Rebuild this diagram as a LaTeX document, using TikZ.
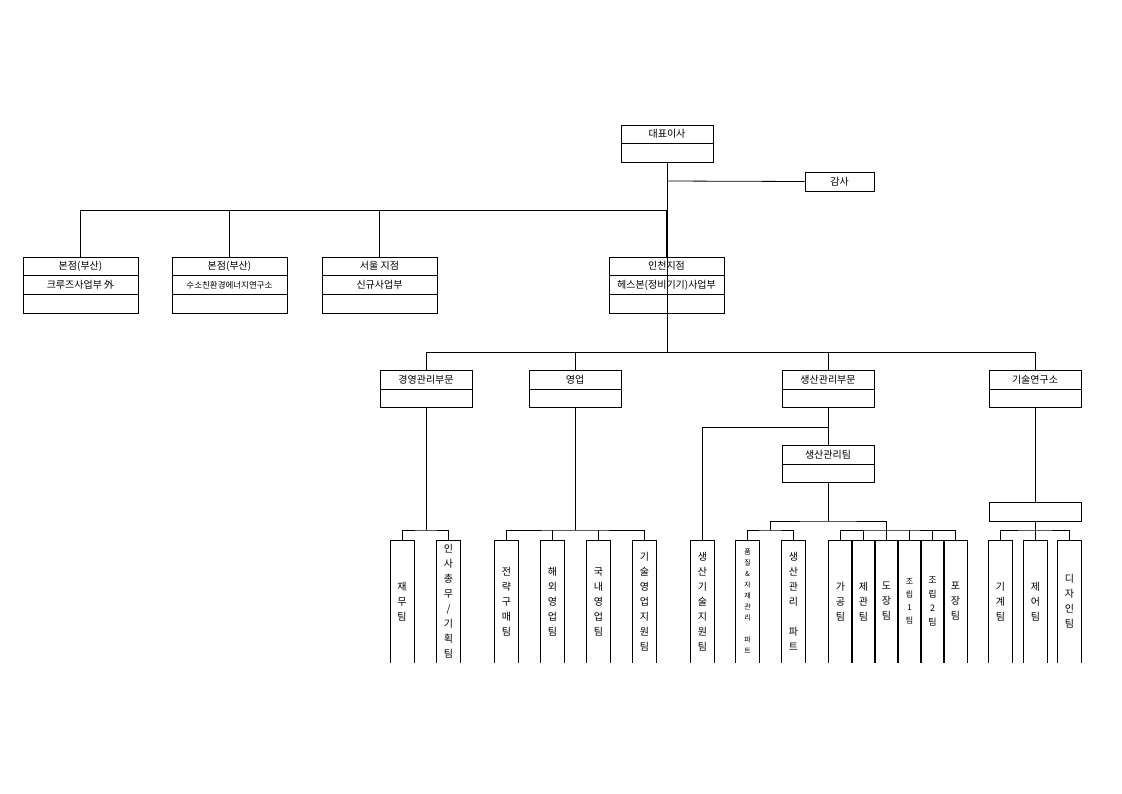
\documentclass[tikz,border=0pt]{standalone}
\usepackage{fontspec}
\setmainfont{Noto Sans CJK KR}
\usetikzlibrary{positioning}
\tikzset{
  box/.style={draw, minimum width=92pt, minimum height=37pt, anchor=north, inner sep=0pt},
  tall/.style={draw, minimum width=115pt, minimum height=56pt, anchor=north, inner sep=0pt},
  txt/.style={font=\fontsize{10}{12}\selectfont, inner sep=0pt},
  col/.style={minimum width=23pt, minimum height=122pt, anchor=north, inner sep=0pt, align=center,
    font=\fontsize{10}{15}\selectfont,
    append after command={\pgfextra{\draw[line width=0.8pt] (\tikzlastnode.south west) -- (\tikzlastnode.north west) -- (\tikzlastnode.north east) -- (\tikzlastnode.south east);}}},
  wire/.style={line width=0.8pt}
}
\begin{document}
\begin{tikzpicture}[x=1pt,y=-1pt,line width=0.8pt]
\useasboundingbox (0,0) rectangle (1122,793);
% top
\node[box] (ceo) at (667,125) {};
\draw (621,143) -- (713,143);
\node[txt] at (667,134) {대표이사};
\node[draw, minimum width=69pt, minimum height=19pt, inner sep=0pt, font=\fontsize{10}{12}\selectfont] (audit) at (839.5,181.5) {감사};
\coordinate (c1) at (667,181);
\coordinate (c2) at (667,210);
\coordinate (c3) at (667,352);
\draw (ceo.south) -- (c3);
\draw (c1) -- (audit.west);
% branches
\node[tall] (b1) at (80.5,257) {};
\node[tall] (b2) at (229.5,257) {};
\node[tall] (b3) at (379.5,257) {};
\node[tall] (b4) at (666.5,257) {};
\foreach \n in {b1,b2,b3,b4}{
  \draw ([yshift=-18pt]\n.north west) -- ([yshift=-18pt]\n.north east);
  \draw ([yshift=-37pt]\n.north west) -- ([yshift=-37pt]\n.north east);
  \draw (c2 -| \n.north) -- (\n.north);
}
\draw (c2 -| b1.north) -- (c2);
\node[txt] at (80.5,266) {본점(부산)};
\node[txt] at (80.5,285) {크루즈사업부 外};
\node[txt] at (229.5,266) {본점(부산)};
\node[txt, font=\fontsize{8.5}{10}\selectfont] at (229.5,285) {수소친환경에너지연구소};
\node[txt] at (379.5,266) {서울 지점};
\node[txt] at (379.5,285) {신규사업부};
\node[txt] at (666.5,266) {인천지점};
\node[txt] at (666.5,285) {헤스본(정비기기)사업부};
% divisions
\node[box] (d1) at (426,370) {};
\node[box] (d2) at (575,370) {};
\node[box] (d3) at (828,370) {};
\node[box] (d4) at (1035,370) {};
\foreach \n/\t in {d1/경영관리부문,d2/영업/구매부문,d3/생산관리부문,d4/기술연구소}{
  \draw ([yshift=-19pt]\n.north west) -- ([yshift=-19pt]\n.north east);
  \node[txt] at ([yshift=-9.5pt]\n.north) {\t};
  \draw (c3 -| \n.north) -- (\n.north);
}
\draw (c3 -| d1.north) -- (c3 -| d4.north);
% 경영관리
\node[col] (t1) at (402,540) {재\\무\\팀};
\node[col] (t2) at (448.5,540) {인\\사\\총\\무\\/\\기\\획\\팀};
\coordinate (h1) at (426,530);
\draw (d1.south) -- (h1);
\draw (t1.north) |- (h1) -| (t2.north);
% 영업
\node[col] (t3) at (506.5,540) {전\\략\\구\\매\\팀};
\node[col] (t4) at (552.5,540) {해\\외\\영\\업\\팀};
\node[col] (t5) at (598.5,540) {국\\내\\영\\업\\팀};
\node[col] (t6) at (644.5,540) {기\\술\\영\\업\\지\\원\\팀};
\coordinate (h2) at (575,530);
\draw (d2.south) -- (h2);
\draw (t3.north) |- (h2) -| (t6.north);
\draw (t4.north) -- (t4.north |- h2);
\draw (t5.north) -- (t5.north |- h2);
% 생산
\node[box] (pm) at (828,445) {};
\draw ([yshift=-19pt]pm.north west) -- ([yshift=-19pt]pm.north east);
\node[txt] at (828,454.5) {생산관리팀};
\draw (d3.south) -- (pm.north);
\node[col] (t7) at (702.5,540) {생\\산\\기\\술\\지\\원\\팀};
\coordinate (h3) at (828,427);
\draw (h3) -| (t7.north);
\coordinate (h4) at (828,521);
\coordinate (h5) at (770,530);
\coordinate (h6) at (886,530);
\draw (pm.south) -- (h4);
\draw (h5) |- (h4) -| (h6);
\node[col, font=\fontsize{7}{11}\selectfont] (t8) at (747.5,540) {품\\질\\\&\\자\\재\\관\\리\\ \\파\\트};
\node[col] (t9) at (793.5,540) {생\\산\\관\\리\\ \\파\\트};
\draw (t8.north) |- (h5) -| (t9.north);
\node[col] (g1) at (840.5,540) {가\\공\\팀};
\node[col] (g2) at (863.5,540) {제\\관\\팀};
\node[col] (g3) at (886.5,540) {도\\장\\팀};
\node[col, font=\fontsize{8}{13}\selectfont] (g4) at (909.5,540) {조\\립\\1\\팀};
\node[col, font=\fontsize{9}{14}\selectfont] (g5) at (932.5,540) {조\\립\\2\\팀};
\node[col] (g6) at (955.5,540) {포\\장\\팀};
\draw (g1.north) |- (h6) -| (g6.north);
\foreach \n in {g2,g3,g4,g5}{ \draw (\n.north) -- (\n.north |- h6); }
% 기술연구소
\node[draw, minimum width=92pt, minimum height=19pt, anchor=north, inner sep=0pt] (lab) at (1035,502) {};
\draw (d4.south) -- (lab.north);
\node[col] (k1) at (1000.5,540) {기\\계\\팀};
\node[col] (k2) at (1035.5,540) {제\\어\\팀};
\node[col] (k3) at (1069.5,540) {디\\자\\인\\팀};
\coordinate (h7) at (1035,530);
\draw (lab.south) -- (h7);
\draw (k1.north) |- (h7) -| (k3.north);
\draw (k2.north) -- (k2.north |- h7);
\end{tikzpicture}
\end{document}
